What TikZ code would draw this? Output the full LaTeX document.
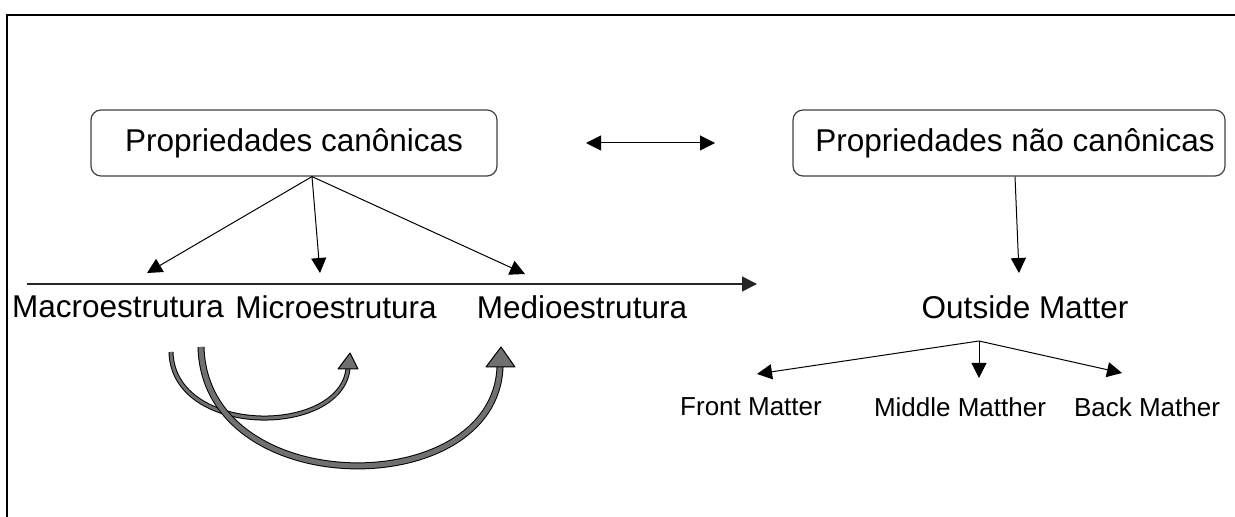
\documentclass[tikz,border=0pt]{standalone}
\usepackage{fontspec}
\setmainfont{Liberation Sans}
\usetikzlibrary{arrows.meta}
\definecolor{arrowgray}{RGB}{112,112,112}
\tikzset{
  propbox/.style={draw=black!75,line width=0.6pt,rounded corners=5pt,minimum height=33pt,
    font=\fontsize{15.75}{19}\selectfont},
  biglabel/.style={font=\fontsize{15.75}{19}\selectfont,inner sep=0pt},
  smalllabel/.style={font=\fontsize{13}{15}\selectfont,inner sep=0pt},
  linkarrow/.style={-{Triangle[length=7.5pt,width=7.5pt]},line width=0.5pt},
  curvearrow/.style={draw=black,line width=0.5pt,double=arrowgray,double distance=#1},
  curvehead/.style={fill=arrowgray,draw=black,line width=0.5pt,line join=round}
}
\begin{document}
\begin{tikzpicture}[x=0.5pt,y=-0.5pt]
  \useasboundingbox (0,0) rectangle (1235,517);
  \draw[line width=1pt] (7,517) -- (7,15) -- (1235,15);
  \node[propbox,minimum width=203pt] (canon) at (294,143) {Propriedades canônicas\hspace{8pt}};
  \node[propbox,minimum width=216pt] (noncanon) at (1009,143) {\hspace{6pt}Propriedades não canônicas};
  \coordinate (dl) at (586,143);
  \coordinate (dr) at (715,143);
  \draw[linkarrow,{Triangle[length=7.5pt,width=7.5pt]}-{Triangle[length=7.5pt,width=7.5pt]}] (dl) -- (dr);
  \node[biglabel] (macro) at (118,307) {Macroestrutura};
  \node[biglabel] (micro) at (336,307) {Microestrutura};
  \node[biglabel] (medio) at (582,307) {Medioestrutura};
  \coordinate (macrotop) at (147,273);
  \coordinate (microtop) at (320,273);
  \coordinate (mediotop) at (525,274);
  \foreach \t in {macrotop,microtop,mediotop}
    \draw[linkarrow] ([xshift=9pt]canon.south) -- (\t);
  \coordinate (axisL) at (27,284);
  \coordinate (axisR) at (757,284);
  \draw[linkarrow,line width=0.75pt,black!85] (axisL) -- (axisR);
  \node[biglabel] (outside) at (1025,307) {Outside Matter};
  \coordinate (outsidetop) at (1019,273);
  \draw[linkarrow] ([xshift=3pt]noncanon.south) -- (outsidetop);
  \node[smalllabel] (front) at (751,407) {Front Matter};
  \node[smalllabel] (middle) at (960,407) {Middle Matther};
  \node[smalllabel] (back) at (1147,407) {Back Mather};
  \coordinate (fork) at (979,341);
  \coordinate (fronttop) at (757,374);
  \coordinate (middletop) at (979,378);
  \coordinate (backtop) at (1122,373);
  \foreach \t in {fronttop,middletop,backtop}
    \draw[linkarrow] (fork) -- (\t);
  \coordinate (c1s) at (171,352);
  \coordinate (c1e) at (348,369);
  \draw[curvearrow=1.5pt] (c1s) .. controls (173,437) and (340,437) .. (c1e);
  \filldraw[curvehead] (338,369) -- (350,353) -- (358,369) -- cycle;
  \coordinate (c2s) at (201,347);
  \coordinate (c2e) at (500,367);
  \draw[curvearrow=2.5pt] (c2s) .. controls (205,502) and (495,502) .. (c2e);
  \filldraw[curvehead] (486,367) -- (501,347) -- (515,367) -- cycle;
\end{tikzpicture}
\end{document}
